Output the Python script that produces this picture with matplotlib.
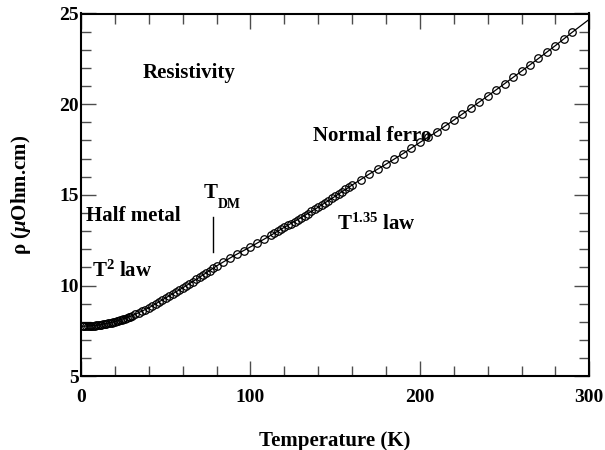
import numpy as np
import matplotlib
matplotlib.use("Agg")
import matplotlib.pyplot as plt
from matplotlib.ticker import MultipleLocator

plt.rcParams['font.family'] = ['Liberation Serif', 'DejaVu Serif']
plt.rcParams['font.weight'] = 'bold'
plt.rcParams['mathtext.fontset'] = 'custom'
plt.rcParams['mathtext.rm'] = 'Liberation Serif:bold'
plt.rcParams['mathtext.bf'] = 'Liberation Serif:bold'
plt.rcParams['mathtext.it'] = 'Liberation Serif:bold:italic'

# measured points (temperature in K, resistivity in uOhm.cm)
temp = [1, 2, 3, 4, 5, 6, 7, 8, 9, 10, 11, 12, 13, 14, 15, 16, 17, 18, 19, 20,
        21, 22, 23, 24, 25, 26, 27, 28, 29, 30,
        32, 34, 36, 38, 40, 42, 44, 46, 48, 50, 52, 54, 56, 58, 60, 62, 64, 66,
        68, 70, 72, 74, 76, 78, 80,
        84, 88, 92, 96, 100, 104, 108, 112, 116, 120, 124, 128, 132, 136, 140,
        144, 148, 152, 156, 160,
        114, 118, 122, 126, 130, 134, 138, 142, 146, 150, 154, 158,
        165, 170, 175, 180, 185, 190, 195, 200, 205, 210, 215, 220, 225, 230,
        235, 240, 245, 250, 255, 260, 265, 270, 275, 280, 285, 290]
rho = [7.75, 7.75, 7.76, 7.76, 7.77, 7.77, 7.78, 7.79, 7.80, 7.81, 7.83, 7.84,
       7.86, 7.88, 7.89, 7.91, 7.93, 7.96, 7.98, 8.01, 8.03, 8.06, 8.09, 8.12,
       8.15, 8.18, 8.22, 8.25, 8.29, 8.33,
       8.41, 8.49, 8.58, 8.67, 8.77, 8.88, 8.99, 9.10, 9.21, 9.32, 9.43, 9.54,
       9.65, 9.76, 9.87, 9.98, 10.10, 10.22, 10.34, 10.46, 10.58, 10.70, 10.82,
       10.94, 11.06,
       11.30, 11.52, 11.74, 11.93, 12.13, 12.34, 12.55, 12.77, 12.99, 13.21,
       13.42, 13.64, 13.86, 14.09, 14.32, 14.55, 14.80, 15.05, 15.30, 15.54,
       12.88, 13.10, 13.31, 13.53, 13.75, 13.97, 14.20, 14.43, 14.67, 14.92,
       15.17, 15.42,
       15.84, 16.14, 16.41, 16.69, 16.98, 17.27, 17.57, 17.89, 18.17, 18.48,
       18.80, 19.12, 19.45, 19.78, 20.12, 20.45, 20.79, 21.13, 21.48, 21.82,
       22.17, 22.52, 22.87, 23.23, 23.59, 23.97]

# fitted curve
fit_temp = [0, 10, 20, 30, 40, 50, 60, 70, 80, 90, 100, 110, 120, 130, 140, 150,
            160, 170, 180, 190, 200, 210, 220, 230, 240, 250, 260, 270, 280, 290, 300]
fit_rho = [7.75, 7.81, 8.01, 8.33, 8.77, 9.32, 9.87, 10.46, 11.08, 11.63, 12.13,
           12.66, 13.21, 13.75, 14.32, 14.92, 15.54, 16.14, 16.69, 17.27, 17.89,
           18.48, 19.12, 19.78, 20.45, 21.13, 21.82, 22.52, 23.23, 23.97, 24.68]

fig = plt.figure(figsize=(6.05, 4.5), dpi=100)
ax = fig.add_subplot(111)
fig.subplots_adjust(left=0.134, right=0.974, bottom=0.164, top=0.970)

ax.plot(fit_temp, fit_rho, color='black', lw=0.9, zorder=2)
ax.plot(temp, rho, 'o', mfc='none', mec='black', ms=5.4, mew=0.9, zorder=3)

ax.set_xlim(0, 300)
ax.set_ylim(5, 25)
ax.xaxis.set_major_locator(MultipleLocator(100))
ax.xaxis.set_minor_locator(MultipleLocator(20))
ax.yaxis.set_major_locator(MultipleLocator(5))
ax.yaxis.set_minor_locator(MultipleLocator(1))
ax.tick_params(which='both', direction='in', top=True, right=True,
               color='0.3', width=1.0, labelsize=14)
ax.tick_params(which='major', length=10.8)
ax.tick_params(which='minor', length=7)
ax.tick_params(axis='x', pad=9)
ax.tick_params(axis='y', pad=1.5)
for s in ax.spines.values():
    s.set_linewidth(1.5)

ax.set_xlabel('Temperature (K)', fontsize=15, fontweight='bold', labelpad=18)
ax.set_ylabel(r'ρ ($\mu$Ohm.cm)', fontsize=15, fontweight='bold', labelpad=19)

ax.text(63.5, 21.7, 'Resistivity', fontsize=15, ha='center', va='center')
ax.text(172, 18.24, 'Normal ferro', fontsize=15, ha='center', va='center')
ax.text(174, 13.4, r'T$^{1.35}$ law', fontsize=15, ha='center', va='center')
ax.text(31, 13.84, 'Half metal', fontsize=15, ha='center', va='center')
ax.text(24, 10.8, r'T$^{2}$ law', fontsize=15, ha='center', va='center')
ax.text(76.6, 15.08, 'T', fontsize=15, ha='center', va='center')
ax.text(87.6, 14.47, 'DM', fontsize=10, ha='center', va='center')
ax.plot([78.1, 78.1], [11.86, 13.8], color='black', lw=1.0)

fig.savefig('out.png', dpi=100)
